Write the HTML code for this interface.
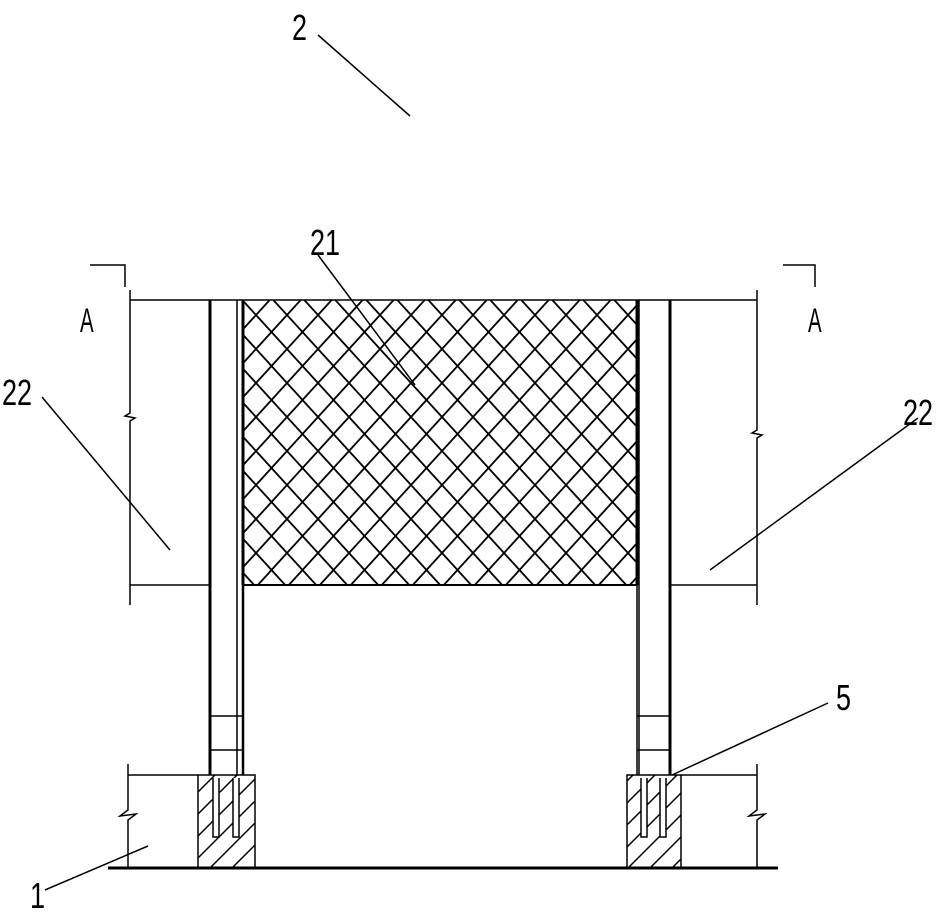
<!DOCTYPE html>
<html><head><style>html,body{margin:0;padding:0;background:#fff}</style></head>
<body>
<svg width="952" height="912" viewBox="0 0 952 912" xmlns="http://www.w3.org/2000/svg">
<defs>
<pattern id="mesh" patternUnits="userSpaceOnUse" width="31" height="34" x="240.5" y="298">
<path d="M0,0 L31,34 M31,0 L0,34" stroke="#000" stroke-width="1.8" fill="none"/>
</pattern>
<pattern id="hatch" patternUnits="userSpaceOnUse" width="22" height="22">
<path d="M0,22 L22,0 M-11,11 L11,-11 M11,33 L33,11" stroke="#000" stroke-width="1.5"/>
</pattern>
</defs>
<g stroke="#000" fill="none" stroke-width="1.5">
<rect x="243" y="300" width="394" height="285" fill="url(#mesh)" stroke="none"/>
<line x1="243" y1="300" x2="243" y2="585" stroke-width="3"/>
<line x1="637" y1="300" x2="637" y2="585" stroke-width="3"/>
<line x1="243" y1="585" x2="637" y2="585" stroke-width="2"/>
<line x1="130" y1="300" x2="757" y2="300"/>
<path d="M130,290 V413 L125,416 L135,418 L130,421 V605"/>
<path d="M757,290 V430 L752,433 L762,435 L757,438 V605"/>
<line x1="130" y1="585" x2="210" y2="585"/>
<line x1="670" y1="585" x2="757" y2="585"/>
<line x1="210" y1="300" x2="210" y2="775" stroke-width="3"/>
<line x1="237" y1="300" x2="237" y2="775"/>
<line x1="243" y1="585" x2="243" y2="775" stroke-width="2.5"/>
<line x1="210" y1="716" x2="243" y2="716"/>
<line x1="210" y1="750" x2="243" y2="750"/>
<line x1="637" y1="585" x2="637" y2="775" stroke-width="1.5"/>
<line x1="639" y1="300" x2="639" y2="775"/>
<line x1="670" y1="300" x2="670" y2="775" stroke-width="3"/>
<line x1="637" y1="716" x2="670" y2="716"/>
<line x1="637" y1="750" x2="670" y2="750"/>
<rect x="198" y="775" width="57" height="93" fill="url(#hatch)"/>
<rect x="627" y="775" width="54" height="93" fill="url(#hatch)"/>
<path d="M213,778 V837 H219 V778 M233,778 V837 H239 V778" fill="#fff"/>
<path d="M641,778 V837 H647 V778 M660,778 V837 H666 V778" fill="#fff"/>
<line x1="128" y1="775" x2="198" y2="775"/>
<line x1="681" y1="775" x2="757" y2="775"/>
<path d="M128,764 V810 L120,816 L136,814 L128,820 V868"/>
<path d="M757,764 V810 L749,816 L765,814 L757,820 V868"/>
<line x1="108" y1="868" x2="778" y2="868" stroke-width="3"/>
<path d="M90,265 H125 V287"/>
<path d="M783,265 H815 V287"/>
<line x1="318" y1="35" x2="410" y2="116"/>
<line x1="318" y1="255" x2="415" y2="385"/>
<line x1="42" y1="397" x2="170" y2="550"/>
<line x1="918" y1="418" x2="710" y2="570"/>
<line x1="828" y1="703" x2="672" y2="775"/>
<line x1="45" y1="890" x2="148" y2="846"/>
</g>
<g font-family="Liberation Sans, sans-serif" font-size="36" fill="#000">
<text x="0" y="0" transform="translate(292,40) scale(0.75,1)">2</text>
<text x="0" y="0" transform="translate(310,255) scale(0.75,1)">21</text>
<text x="0" y="0" transform="translate(2,405) scale(0.75,1)">22</text>
<text x="0" y="0" transform="translate(903,425) scale(0.75,1)">22</text>
<text x="0" y="0" transform="translate(836,710) scale(0.75,1)">5</text>
<text x="0" y="0" transform="translate(30,908) scale(0.75,1)">1</text>
<text x="0" y="0" transform="translate(80,332) scale(0.6,1)" font-size="34">A</text>
<text x="0" y="0" transform="translate(808,332) scale(0.6,1)" font-size="34">A</text>
</g>
</svg>
</body></html>
